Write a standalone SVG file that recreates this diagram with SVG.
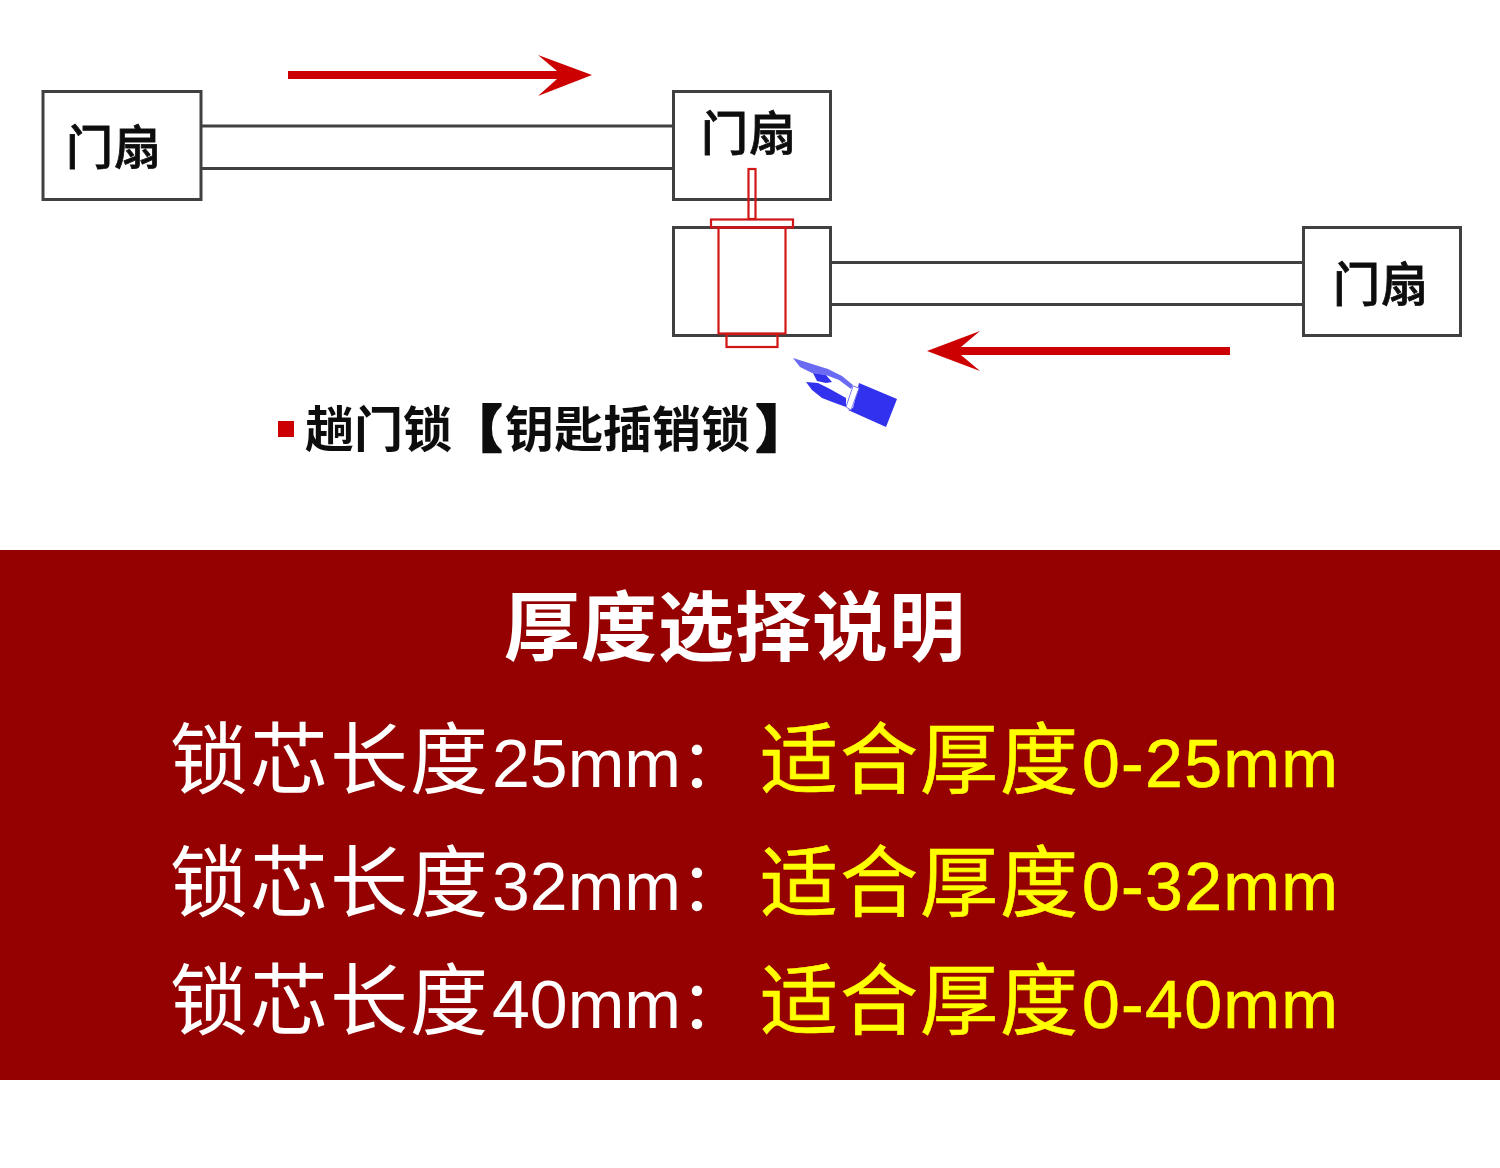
<svg xmlns="http://www.w3.org/2000/svg" width="1500" height="1168" viewBox="0 0 1500 1168">
<defs><filter id="soft" x="-5%" y="-5%" width="110%" height="110%"><feGaussianBlur stdDeviation="0.7"/></filter></defs>
<style>
.box{fill:#fff;stroke:#404040;stroke-width:3}
.rail{stroke:#404040;stroke-width:3;fill:none}
.lock{fill:none;stroke:#d01818;stroke-width:2.2}
.door{font-family:"Noto Sans CJK SC","Liberation Sans",sans-serif;font-size:47px;font-weight:500;fill:#111;stroke:#111;stroke-width:.8;letter-spacing:1px}
.cap{font-family:"Noto Sans CJK SC",sans-serif;font-size:49px;font-weight:700;fill:#111}
.br{stroke:#111;stroke-width:4}
.t{font-family:"Noto Sans CJK SC",sans-serif;font-size:78px;letter-spacing:2px}
.l{font-family:"Liberation Sans",sans-serif;font-size:68px;letter-spacing:0}
.ly{letter-spacing:1.300px}
.c{font-size:68px}
.w{fill:#fff}.y{fill:#ffff00;stroke:#ffff00;stroke-width:.6}
</style>
<rect width="1500" height="1168" fill="#fff"/>
<g filter="url(#soft)">
<rect id="band" x="0" y="550" width="1500" height="530" fill="#950000"/>
<g id="connectors">
<path class="rail" d="M201 126H673M201 168.500H673M831 262.500H1303M831 304.500H1303"/>
<path fill="#cc0000" d="M288 71H557L538 55 592 75 538 96 557 79H288Z"/>
<path fill="#cc0000" d="M1230 347H961L980 331 927 351 980 371 961 355H1230Z"/>
</g>
<g id="door-1"><rect class="box" x="43" y="91.500" width="158" height="108"/><text class="door" x="66" y="164">门扇</text></g>
<g id="door-2"><rect class="box" x="673.500" y="91.500" width="157" height="108"/><text class="door" x="701" y="150">门扇</text></g>
<g id="door-3"><rect class="box" x="673.500" y="227.500" width="157" height="108"/></g>
<g id="door-4"><rect class="box" x="1303.500" y="227.500" width="157" height="108"/><text class="door" x="1333" y="301">门扇</text></g>
<g id="lock">
<rect class="lock" x="748.500" y="169" width="7" height="50"/>
<rect class="lock" x="711" y="219.500" width="82" height="8"/>
<rect class="lock" x="718.500" y="227.500" width="67" height="106"/>
<rect class="lock" x="726.500" y="334" width="51" height="13"/>
</g>
<g id="hand">
<path fill="#6a6af2" d="M793 358 828 369 842 376 853 385 851 389 839 380 826 375 812 373 800 367Z"/>
<path fill="#3333ee" d="M813 373 826 375 832 382 826 383 817 381Z"/>
<path fill="#3333ee" d="M806 382 818 383 830 389 846 398 846 407 835 403 822 398 812 390Z"/>
<path fill="#3333ee" d="M859 383 897 399 886 427 848 410 853 408Z"/>
<path fill="#fff" stroke="#7a7af2" stroke-width="1" d="M853 386 859 388 851 410 846 407Z"/>
</g>
<g id="caption">
<rect x="278" y="421" width="16" height="16" fill="#cc0000"/>
<text class="cap" x="305" y="447">趟门锁<tspan class="br" x="452">【</tspan><tspan x="505">钥匙插销锁</tspan><tspan class="br" x="757">】</tspan></text>
</g>
<g id="spec">
<text class="t w" x="504" y="655" style="font-size:76px;font-weight:700;letter-spacing:1px">厚度选择说明</text>
<text class="t w" x="170" y="788">锁芯长度<tspan class="l" x="492" y="787">25mm</tspan><tspan class="c" x="680" y="788">：</tspan></text>
<text class="t y" x="760" y="788">适合厚度<tspan class="l ly" x="1082" y="787">0-25mm</tspan></text>
<text class="t w" x="170" y="911">锁芯长度<tspan class="l" x="492" y="910">32mm</tspan><tspan class="c" x="680" y="911">：</tspan></text>
<text class="t y" x="760" y="911">适合厚度<tspan class="l ly" x="1082" y="910">0-32mm</tspan></text>
<text class="t w" x="170" y="1029">锁芯长度<tspan class="l" x="492" y="1028">40mm</tspan><tspan class="c" x="680" y="1029">：</tspan></text>
<text class="t y" x="760" y="1029">适合厚度<tspan class="l ly" x="1082" y="1028">0-40mm</tspan></text>
</g>
</g>
</svg>
